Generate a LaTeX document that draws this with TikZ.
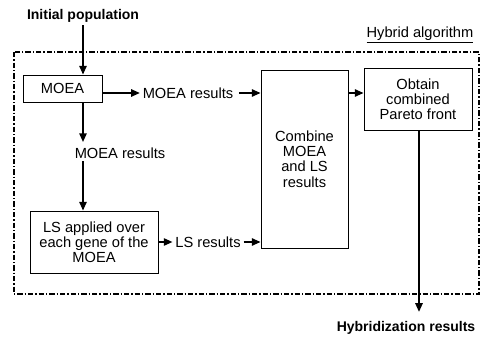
\documentclass[tikz,border=0pt]{standalone}
\usepackage{fontspec}
\setmainfont{Liberation Sans}
\usepackage{tikz}
\usetikzlibrary{arrows.meta,positioning,calc}

\begin{document}
\begin{tikzpicture}[x=0.75pt,y=-0.75pt,
  font=\fontsize{11}{11.4}\selectfont,
  blockbox/.style={draw,line width=0.7pt,align=center,inner sep=1pt},
  txt/.style={inner sep=2pt},
  arr/.style={line width=1.2pt,-{Triangle[length=6.5pt,width=5.5pt]}},
  frame/.style={line width=0.9pt,dash pattern=on 4pt off 1.5pt on 1pt off 1.5pt}]
  \useasboundingbox (0,0) rectangle (482,339);
  % hybrid algorithm frame
  \draw[frame] (14,52) rectangle (479,294);
  \node[txt] (halg) at (420,35) {\underline{Hybrid algorithm}};
  % blocks
  \node[txt,font=\fontsize{10.5}{11.4}\selectfont\bfseries] (init) at (83,16) {Initial population};
  \node[blockbox,minimum width=59.25pt,minimum height=20.25pt] (moea) at (62.5,88.5) {MOEA};
  \node[txt] (res1) at (188,93) {MOEA results};
  \node[txt] (res2) at (120,153) {MOEA results};
  \node[blockbox,minimum width=96pt,minimum height=46.5pt] (ls) at (94,242)
    {LS applied over\\each gene of the\\MOEA};
  \node[txt] (lsres) at (208,242) {LS results};
  \node[blockbox,minimum width=65.25pt,minimum height=133.5pt] (comb) at (304.5,159)
    {Combine\\MOEA\\and LS\\results};
  \node[blockbox,minimum width=81pt,minimum height=46.5pt] (obt) at (418,99)
    {Obtain\\combined\\Pareto front};
  \node[txt,font=\fontsize{10.5}{11.4}\selectfont\bfseries] (hyb) at (406,328) {Hybridization results};
  % connectors
  \draw[arr] (init) -- (init |- moea.north);
  \draw[arr] (moea.east |- res1) -- (res1);
  \draw[arr,shorten <=2pt] (res1) -- (res1 -| comb.west);
  \draw[arr] (comb.east |- res1) -- (obt.west |- res1);
  \draw[arr] (moea.south -| init) -- ([yshift=2pt]res2.north -| init);
  \draw[arr] (res2.south -| init) -- (ls.north -| init);
  \draw[arr] (ls) -- (lsres);
  \draw[arr] (lsres) -- (lsres -| comb.west);
  \draw[arr,shorten >=5pt] (obt.south -| 419,0) -- (hyb.north -| 419,0);
\end{tikzpicture}
\end{document}
